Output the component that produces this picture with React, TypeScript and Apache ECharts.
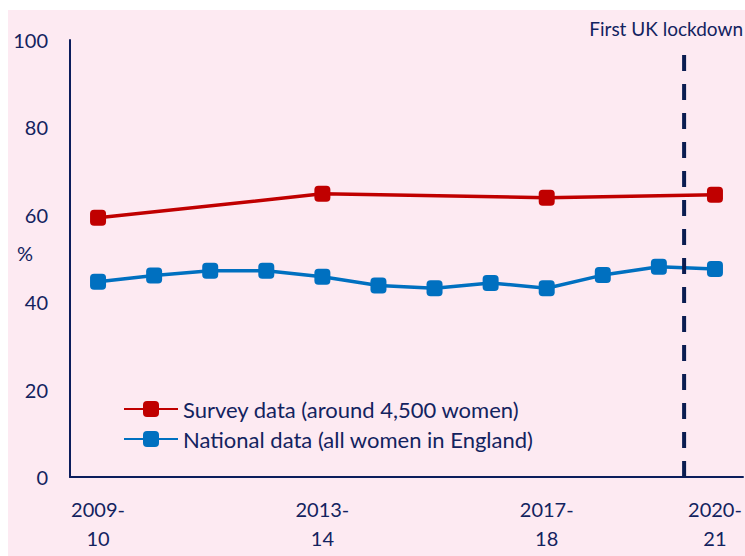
import React, { useEffect, useRef } from "react";
import * as echarts from "echarts";

const years = [
  "2009-\n10", "2010-\n11", "2011-\n12", "2012-\n13", "2013-\n14", "2014-\n15",
  "2015-\n16", "2016-\n17", "2017-\n18", "2018-\n19", "2019-\n20", "2020-\n21",
];
const shownLabels = [0, 4, 8, 11];
const surveyValues: (number | null)[] = [59.3, null, null, null, 64.8, null, null, null, 63.9, null, null, 64.6];
const nationalValues = [44.7, 46.1, 47.2, 47.2, 45.8, 43.8, 43.2, 44.4, 43.2, 46.2, 48.1, 47.6];
const lockdownPos = 10.95; // position on category scale (0..12)
const lockdownRange = [0, 98];

const surveyName = "Survey data (around 4,500 women)";
const nationalName = "National data (all women in England)";
const lockdownLabel = "First UK lockdown";

const NAVY = "#13235f";
const FONT = "Lato, 'Open Sans', sans-serif";

export default function App() {
  const ref = useRef<HTMLDivElement>(null);
  useEffect(() => {
    if (!ref.current) return;
    const chart = echarts.init(ref.current, undefined, { renderer: "svg" });
    chart.setOption({
      animation: false,
      backgroundColor: "#fdeaf2",
      textStyle: { fontFamily: FONT },
      grid: { left: 62, right: 2, top: 30, bottom: 79, containLabel: false },
      xAxis: [
        {
          type: "category",
          data: years,
          boundaryGap: true,
          axisLine: { lineStyle: { color: "#0b1d5c", width: 2 } },
          axisTick: { show: false },
          axisLabel: {
            interval: (i: number) => shownLabels.includes(i),
            color: NAVY,
            fontSize: 20,
            lineHeight: 29,
            margin: 17,
            fontFamily: FONT,
          },
        },
        { type: "value", min: 0, max: 12, show: false },
      ],
      yAxis: {
        type: "value",
        min: 0,
        max: 100,
        interval: 20,
        splitLine: { show: false },
        axisLine: { show: true, lineStyle: { color: "#0b1d5c", width: 2 } },
        axisTick: { show: false },
        axisLabel: { color: NAVY, fontSize: 20, margin: 22, fontFamily: FONT },
      },
      legend: {
        orient: "vertical",
        left: 110,
        top: 383,
        itemWidth: 54,
        itemHeight: 20,
        itemGap: 8,
        data: [surveyName, nationalName],
        textStyle: { color: NAVY, fontSize: 22, lineHeight: 22, fontFamily: FONT },
      },
      series: [
        {
          name: surveyName,
          type: "line",
          data: surveyValues,
          connectNulls: true,
          symbol: "roundRect",
          symbolSize: 16,
          lineStyle: { color: "#c00000", width: 3.5 },
          itemStyle: { color: "#c00000" },
          z: 3,
        },
        {
          name: nationalName,
          type: "line",
          data: nationalValues,
          symbol: "roundRect",
          symbolSize: 16,
          lineStyle: { color: "#0070c0", width: 3.5 },
          itemStyle: { color: "#0070c0" },
          z: 3,
        },
        {
          name: "lockdown",
          type: "line",
          xAxisIndex: 1,
          data: [
            [lockdownPos, lockdownRange[0]],
            [lockdownPos, lockdownRange[1]],
          ],
          symbol: "none",
          lineStyle: { color: "#0b1d51", width: 4, type: [16, 13] },
          z: 4,
          silent: true,
        },
      ],
      graphic: [
        {
          type: "text",
          right: 2,
          top: 9,
          style: { text: lockdownLabel, fill: NAVY, font: `19px ${FONT}` },
        },
        {
          type: "text",
          left: 9,
          top: 233,
          style: { text: "%", fill: NAVY, font: `20px ${FONT}` },
        },
      ],
    });
    return () => chart.dispose();
  }, []);
  return (
    <div
      ref={ref}
      style={{ position: "absolute", left: 8, top: 10, width: 737, height: 546 }}
    />
  );
}
